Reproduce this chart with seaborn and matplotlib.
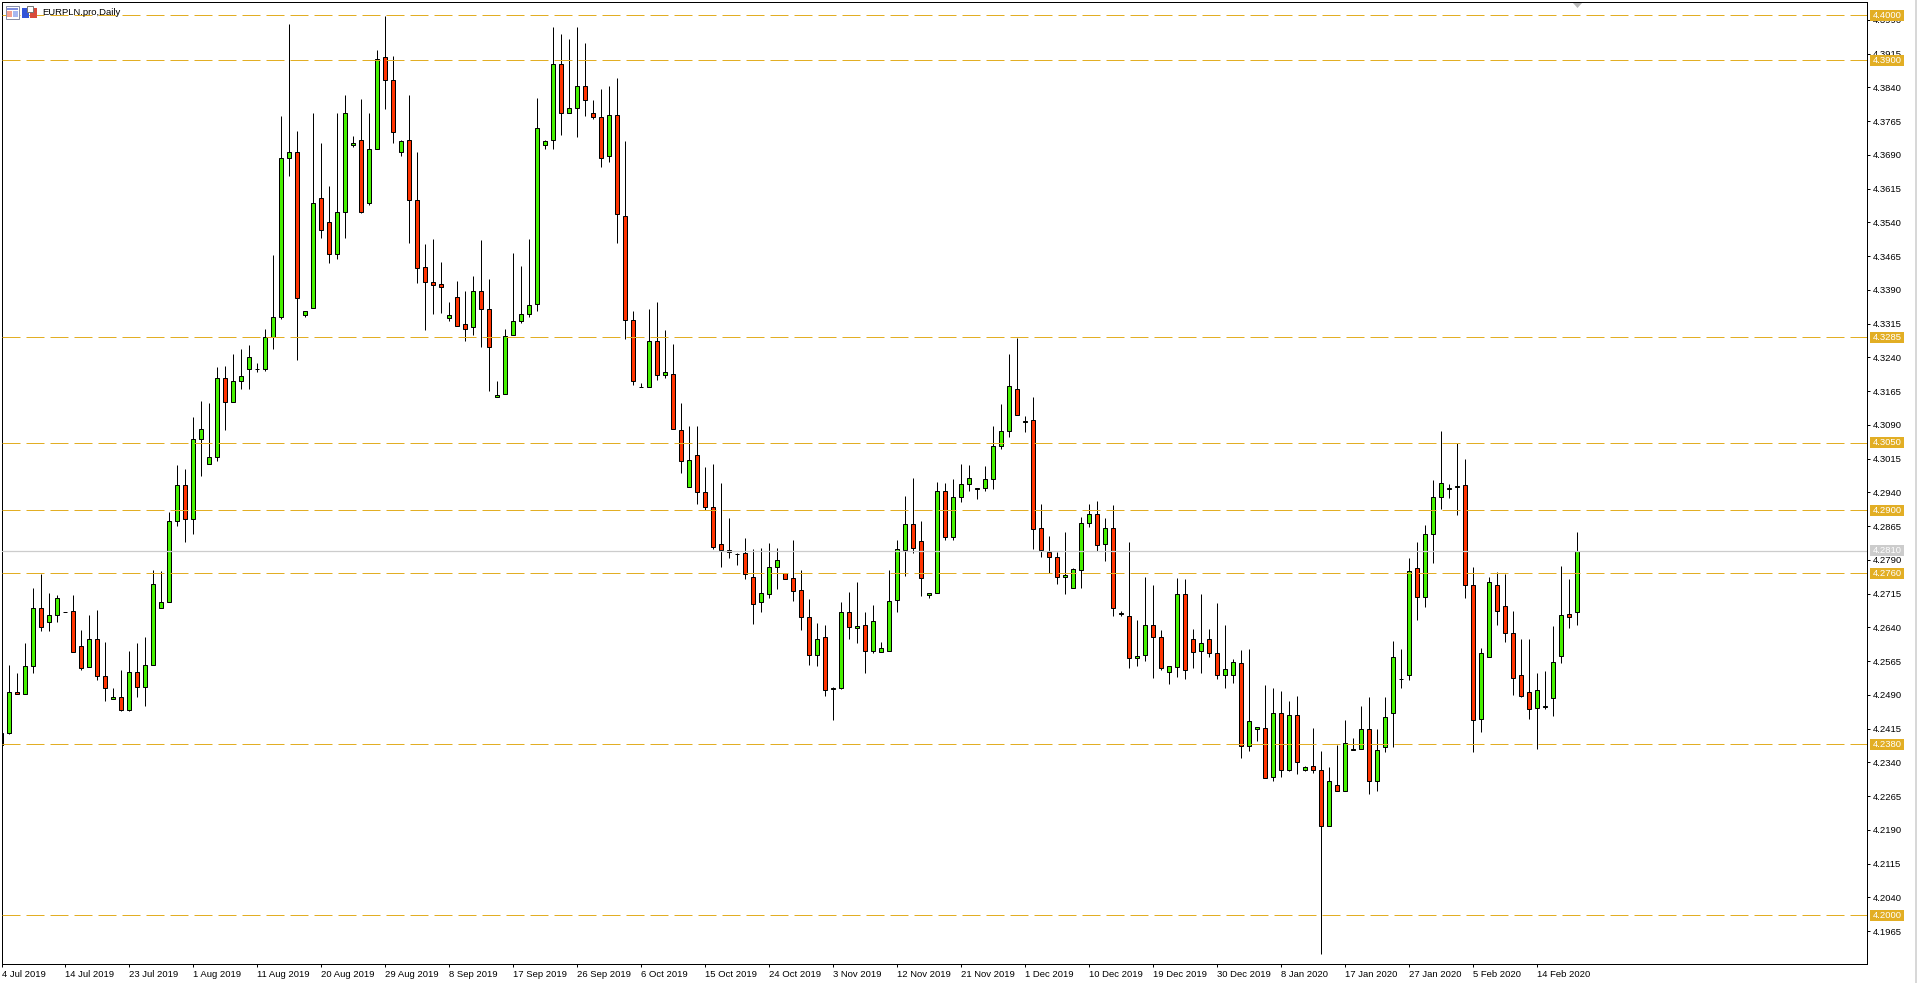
#!/usr/bin/env python3
# EURPLN daily candles with the drawn support / resistance levels
import pandas as pd
import seaborn as sb
import matplotlib
matplotlib.use('Agg')
import matplotlib.pyplot as plt
from matplotlib.patches import Rectangle, Polygon

opens = [4.2378, 4.2404, 4.2496, 4.2491, 4.2553, 4.2682, 4.2651, 4.2667, 4.2673, 4.2676,
         4.2598, 4.2551, 4.2613, 4.2531, 4.2480, 4.2485, 4.2456, 4.2540, 4.2507, 4.2556,
         4.2682, 4.2696, 4.2876, 4.2956, 4.2880, 4.3058, 4.3002, 4.3018, 4.3193, 4.3140,
         4.3187, 4.3213, 4.3213, 4.3213, 4.3286, 4.3329, 4.3682, 4.3696, 4.3333, 4.3349,
         4.3593, 4.3540, 4.3469, 4.3564, 4.3711, 4.3722, 4.3584, 4.3704, 4.3907, 4.3856,
         4.3696, 4.3722, 4.3589, 4.3440, 4.3407, 4.3402, 4.3327, 4.3373, 4.3313, 4.3307,
         4.3387, 4.3347, 4.3151, 4.3158, 4.3289, 4.3320, 4.3336, 4.3358, 4.3711, 4.3722,
         4.3891, 4.3784, 4.3793, 4.3844, 4.3782, 4.3773, 4.3687, 4.3778, 4.3553, 4.3322,
         4.3173, 4.3173, 4.3276, 4.3200, 4.3204, 4.3078, 4.2951, 4.3022, 4.2940, 4.2907,
         4.2824, 4.2811, 4.2802, 4.2804, 4.2751, 4.2696, 4.2713, 4.2773, 4.2760, 4.2749,
         4.2722, 4.2662, 4.2578, 4.2618, 4.2502, 4.2505, 4.2673, 4.2639, 4.2645, 4.2587,
         4.2585, 4.2587, 4.2700, 4.2811, 4.2869, 4.2831, 4.2711, 4.2716, 4.2942, 4.2840,
         4.2929, 4.2958, 4.2947, 4.2949, 4.2969, 4.3044, 4.3076, 4.3169, 4.3097, 4.3100,
         4.2860, 4.2807, 4.2796, 4.2751, 4.2727, 4.2767, 4.2871, 4.2891, 4.2824, 4.2860,
         4.2670, 4.2665, 4.2571, 4.2578, 4.2645, 4.2618, 4.2540, 4.2551, 4.2713, 4.2613,
         4.2587, 4.2613, 4.2582, 4.2533, 4.2533, 4.2560, 4.2376, 4.2415, 4.2416, 4.2307,
         4.2449, 4.2322, 4.2445, 4.2322, 4.2331, 4.2322, 4.2199, 4.2290, 4.2276, 4.2368,
         4.2370, 4.2415, 4.2298, 4.2373, 4.2449, 4.2524, 4.2533, 4.2771, 4.2707, 4.2847,
         4.2930, 4.2948, 4.2951, 4.2956, 4.2733, 4.2437, 4.2573, 4.2733, 4.2687, 4.2627,
         4.2533, 4.2497, 4.2460, 4.2462, 4.2482, 4.2576, 4.2669, 4.2673]

highs = [4.2405, 4.2556, 4.2539, 4.2605, 4.2727, 4.2759, 4.2716, 4.2712, 4.2675, 4.2712,
         4.2634, 4.2667, 4.2679, 4.2607, 4.2505, 4.2545, 4.2587, 4.2605, 4.2619, 4.2767,
         4.2765, 4.2896, 4.3000, 4.2991, 4.3107, 4.3144, 4.3138, 4.3218, 4.3220, 4.3247,
         4.3258, 4.3267, 4.3227, 4.3304, 4.3467, 4.3776, 4.3981, 4.3742, 4.3342, 4.3782,
         4.3716, 4.3620, 4.3782, 4.3824, 4.3731, 4.3813, 4.3782, 4.3924, 4.3998, 4.3909,
         4.3722, 4.3824, 4.3696, 4.3491, 4.3504, 4.3451, 4.3364, 4.3409, 4.3387, 4.3420,
         4.3501, 4.3413, 4.3187, 4.3304, 4.3471, 4.3444, 4.3504, 4.3816, 4.3722, 4.3973,
         4.3958, 4.3947, 4.3973, 4.3938, 4.3811, 4.3836, 4.3844, 4.3860, 4.3720, 4.3344,
         4.3184, 4.3347, 4.3364, 4.3300, 4.3269, 4.3138, 4.3087, 4.3087, 4.2996, 4.3004,
         4.2960, 4.2882, 4.2804, 4.2838, 4.2813, 4.2816, 4.2827, 4.2816, 4.2760, 4.2833,
         4.2767, 4.2702, 4.2649, 4.2645, 4.2508, 4.2696, 4.2718, 4.2740, 4.2673, 4.2689,
         4.2607, 4.2767, 4.2833, 4.2931, 4.2971, 4.2876, 4.2716, 4.2964, 4.2960, 4.2969,
         4.3002, 4.3000, 4.2950, 4.2998, 4.3087, 4.3136, 4.3247, 4.3283, 4.3109, 4.3151,
         4.2913, 4.2842, 4.2807, 4.2851, 4.2771, 4.2884, 4.2913, 4.2920, 4.2882, 4.2911,
         4.2676, 4.2829, 4.2656, 4.2751, 4.2733, 4.2633, 4.2553, 4.2749, 4.2747, 4.2636,
         4.2713, 4.2636, 4.2693, 4.2645, 4.2569, 4.2589, 4.2591, 4.2418, 4.2511, 4.2505,
         4.2498, 4.2476, 4.2487, 4.2331, 4.2416, 4.2365, 4.2329, 4.2379, 4.2435, 4.2393,
         4.2464, 4.2485, 4.2413, 4.2485, 4.2610, 4.2591, 4.2793, 4.2830, 4.2868, 4.2967,
         4.3076, 4.2958, 4.3050, 4.3014, 4.2773, 4.2593, 4.2752, 4.2762, 4.2759, 4.2676,
         4.2614, 4.2614, 4.2538, 4.2543, 4.2643, 4.2776, 4.2747, 4.2852]

lows = [4.2378, 4.2402, 4.2491, 4.2491, 4.2539, 4.2632, 4.2632, 4.2652, 4.2673, 4.2585,
        4.2545, 4.2551, 4.2523, 4.2477, 4.2480, 4.2453, 4.2453, 4.2485, 4.2464, 4.2556,
        4.2682, 4.2696, 4.2864, 4.2830, 4.2848, 4.2977, 4.3002, 4.3010, 4.3079, 4.3140,
        4.3170, 4.3170, 4.3208, 4.3210, 4.3259, 4.3326, 4.3644, 4.3233, 4.3330, 4.3349,
        4.3505, 4.3450, 4.3459, 4.3505, 4.3707, 4.3560, 4.3579, 4.3704, 4.3792, 4.3716,
        4.3688, 4.3495, 4.3406, 4.3301, 4.3337, 4.3339, 4.3321, 4.3309, 4.3277, 4.3290,
        4.3264, 4.3166, 4.3151, 4.3158, 4.3289, 4.3316, 4.3329, 4.3344, 4.3704, 4.3704,
        4.3733, 4.3784, 4.3729, 4.3777, 4.3770, 4.3664, 4.3675, 4.3495, 4.3280, 4.3179,
        4.3173, 4.3173, 4.3190, 4.3193, 4.3080, 4.2984, 4.2951, 4.2913, 4.2901, 4.2815,
        4.2775, 4.2795, 4.2779, 4.2748, 4.2648, 4.2673, 4.2704, 4.2726, 4.2747, 4.2699,
        4.2633, 4.2557, 4.2553, 4.2488, 4.2435, 4.2502, 4.2613, 4.2604, 4.2539, 4.2582,
        4.2585, 4.2587, 4.2675, 4.2755, 4.2804, 4.2710, 4.2706, 4.2716, 4.2833, 4.2833,
        4.2919, 4.2942, 4.2924, 4.2942, 4.2948, 4.3036, 4.3064, 4.3111, 4.3073, 4.2813,
        4.2797, 4.2760, 4.2737, 4.2713, 4.2727, 4.2728, 4.2862, 4.2810, 4.2788, 4.2665,
        4.2666, 4.2550, 4.2553, 4.2564, 4.2528, 4.2544, 4.2513, 4.2530, 4.2524, 4.2550,
        4.2539, 4.2575, 4.2526, 4.2506, 4.2517, 4.2350, 4.2366, 4.2387, 4.2305, 4.2299,
        4.2308, 4.2320, 4.2315, 4.2320, 4.2317, 4.1915, 4.2199, 4.2276, 4.2276, 4.2368,
        4.2370, 4.2270, 4.2277, 4.2363, 4.2374, 4.2506, 4.2522, 4.2657, 4.2686, 4.2782,
        4.2902, 4.2928, 4.2889, 4.2705, 4.2362, 4.2407, 4.2573, 4.2644, 4.2607, 4.2490,
        4.2485, 4.2436, 4.2370, 4.2459, 4.2443, 4.2561, 4.2639, 4.2645]

closes = [4.2405, 4.2496, 4.2491, 4.2553, 4.2682, 4.2640, 4.2667, 4.2704, 4.2675, 4.2585,
          4.2550, 4.2613, 4.2531, 4.2505, 4.2485, 4.2456, 4.2540, 4.2507, 4.2556, 4.2736,
          4.2696, 4.2876, 4.2956, 4.2880, 4.3058, 4.3080, 4.3018, 4.3193, 4.3140, 4.3187,
          4.3198, 4.3240, 4.3215, 4.3286, 4.3329, 4.3682, 4.3696, 4.3371, 4.3342, 4.3582,
          4.3524, 4.3469, 4.3562, 4.3782, 4.3716, 4.3562, 4.3702, 4.3904, 4.3856, 4.3740,
          4.3720, 4.3589, 4.3438, 4.3407, 4.3400, 4.3396, 4.3333, 4.3309, 4.3304, 4.3387,
          4.3347, 4.3262, 4.3157, 4.3288, 4.3320, 4.3336, 4.3356, 4.3749, 4.3720, 4.3891,
          4.3784, 4.3793, 4.3844, 4.3811, 4.3773, 4.3684, 4.3778, 4.3558, 4.3322, 4.3187,
          4.3174, 4.3276, 4.3200, 4.3207, 4.3080, 4.3009, 4.3011, 4.2940, 4.2907, 4.2818,
          4.2811, 4.2807, 4.2803, 4.2758, 4.2691, 4.2716, 4.2773, 4.2789, 4.2747, 4.2720,
          4.2662, 4.2578, 4.2613, 4.2500, 4.2505, 4.2673, 4.2640, 4.2642, 4.2587, 4.2653,
          4.2593, 4.2698, 4.2813, 4.2869, 4.2816, 4.2749, 4.2716, 4.2942, 4.2840, 4.2929,
          4.2958, 4.2971, 4.2950, 4.2969, 4.3044, 4.3076, 4.3176, 4.3111, 4.3099, 4.2858,
          4.2811, 4.2796, 4.2751, 4.2756, 4.2769, 4.2871, 4.2891, 4.2822, 4.2860, 4.2682,
          4.2671, 4.2571, 4.2576, 4.2645, 4.2618, 4.2549, 4.2553, 4.2713, 4.2544, 4.2585,
          4.2604, 4.2582, 4.2533, 4.2547, 4.2562, 4.2376, 4.2431, 4.2418, 4.2305, 4.2449,
          4.2322, 4.2445, 4.2340, 4.2329, 4.2322, 4.2199, 4.2298, 4.2276, 4.2382, 4.2370,
          4.2415, 4.2298, 4.2367, 4.2440, 4.2573, 4.2526, 4.2764, 4.2707, 4.2847, 4.2930,
          4.2961, 4.2950, 4.2953, 4.2733, 4.2433, 4.2582, 4.2740, 4.2677, 4.2627, 4.2528,
          4.2488, 4.2458, 4.2500, 4.2464, 4.2562, 4.2667, 4.2662, 4.2810]

date_labels = ['4 Jul 2019', '14 Jul 2019', '23 Jul 2019', '1 Aug 2019', '11 Aug 2019',
               '20 Aug 2019', '29 Aug 2019', '8 Sep 2019', '17 Sep 2019', '26 Sep 2019',
               '6 Oct 2019', '15 Oct 2019', '24 Oct 2019', '3 Nov 2019', '12 Nov 2019',
               '21 Nov 2019', '1 Dec 2019', '10 Dec 2019', '19 Dec 2019', '30 Dec 2019',
               '8 Jan 2020', '17 Jan 2020', '27 Jan 2020', '5 Feb 2020', '14 Feb 2020']
price_ticks = [4.3990, 4.3915, 4.3840, 4.3765, 4.3690, 4.3615, 4.3540, 4.3465, 4.3390, 4.3315,
               4.3240, 4.3165, 4.3090, 4.3015, 4.2940, 4.2865, 4.2790, 4.2715, 4.2640, 4.2565,
               4.2490, 4.2415, 4.2340, 4.2265, 4.2190, 4.2115, 4.2040, 4.1965]
levels = [4.4000, 4.3900, 4.3285, 4.3050, 4.2900, 4.2760, 4.2380, 4.2000]
last_price = 4.2810

GOLD = '#E2AE24'
GREY = '#CCCCCC'
W, H = 1917, 983

sb.set_style('white')
plt.rcParams['font.family'] = ['Liberation Sans', 'DejaVu Sans']

df = pd.DataFrame({'bar': range(len(opens)), 'open': opens, 'high': highs,
                   'low': lows, 'close': closes})
df['bottom'] = df[['open', 'close']].min(axis=1)
df['body'] = (df['close'] - df['open']).abs()

fig = plt.figure(figsize=(W / 100, H / 100), dpi=100, facecolor='white')
ax = fig.add_axes([1.5 / W, (H - 964.3) / H, 1865.8 / W, 962 / H])

# wicks first, the bodies go on top of them
ax.vlines(df['bar'], df['low'], df['high'], color='black', lw=0.72, zorder=1)
up = df[df['close'] >= df['open']]
down = df[df['close'] < df['open']]
for part, col in ((up, '#46F000'), (down, '#FF3300')):
    sb.barplot(data=part, x='bar', y='body', bottom=part['bottom'].values, native_scale=True,
               errorbar=None, color=col, saturation=1, width=0.5,
               edgecolor='black', linewidth=0.72, zorder=2, ax=ax)

for lvl in levels:
    ax.axhline(lvl, color=GOLD, lw=0.72, linestyle=(0, (18, 6)), zorder=3)
ax.axhline(last_price, color=GREY, lw=0.9, zorder=3)

ax.set_xlim(0.02, 233.25)
ax.set_ylim(4.18911, 4.40289)
ax.set_xlabel('')
ax.set_ylabel('')

ax.yaxis.tick_right()
ax.set_yticks(price_ticks, ['%.4f' % p for p in price_ticks])
ax.set_xticks(range(0, 8 * len(date_labels), 8), date_labels, ha='left')
ax.tick_params(axis='both', direction='out', length=2.4, width=0.72, color='black',
               labelsize=6.8, labelcolor='black', pad=1.8, bottom=True, right=True)
for sp in ax.spines.values():
    sp.set_visible(True)
    sp.set_color('black')
    sp.set_linewidth(0.72)

# highlighted price tags on the right scale
trans = ax.get_yaxis_transform()
for lvl, col in [(v, GOLD) for v in levels] + [(last_price, GREY)]:
    ax.add_patch(Rectangle((1 + 2.7 / 1865.8, lvl - 5.5 / 4500), 34.3 / 1865.8, 11 / 4500,
                           transform=trans, clip_on=False, facecolor=col, edgecolor='none',
                           zorder=5))
    ax.text(1 + 5.5 / 1865.8, lvl, '%.4f' % lvl, transform=trans, clip_on=False, color='white',
            fontsize=6.8, va='center', ha='left', zorder=6)

fig.text(42.5 / W, 1 - 12.5 / H, 'EURPLN.pro,Daily', fontsize=6.8, color='black', va='center')


def box(x, y, w, h, col, edge='none'):
    # rectangle in screen pixels, y from the top
    fig.add_artist(Rectangle((x / W, 1 - (y + h) / H), w / W, h / H, transform=fig.transFigure,
                             facecolor=col, edgecolor=edge, lw=0.72, zorder=4))


# chart window icons top left
box(5.5, 6.5, 13.5, 12, '#FFFFFF', '#8A8FA8')
box(7, 8, 10.5, 2, '#7F8FE0')
box(7, 11, 5, 6, '#F4A090')
box(12.5, 11, 5, 6, '#A8B8F0')
box(22, 8, 7, 10, '#3355D8')
box(30, 8, 7, 10, '#D84A3A')
box(27, 6.5, 6, 5, '#FFFFFF', '#777777')

# shift marker and window edge
fig.add_artist(Polygon([(1573 / W, 1 - 3 / H), (1582 / W, 1 - 3 / H), (1577.5 / W, 1 - 8 / H)],
                       transform=fig.transFigure, facecolor='#B8B8B8', edgecolor='none', zorder=4))
box(1914.5, 0, 2.5, H, '#D8D8D8')

fig.savefig('out.png', dpi=100, facecolor='white')
